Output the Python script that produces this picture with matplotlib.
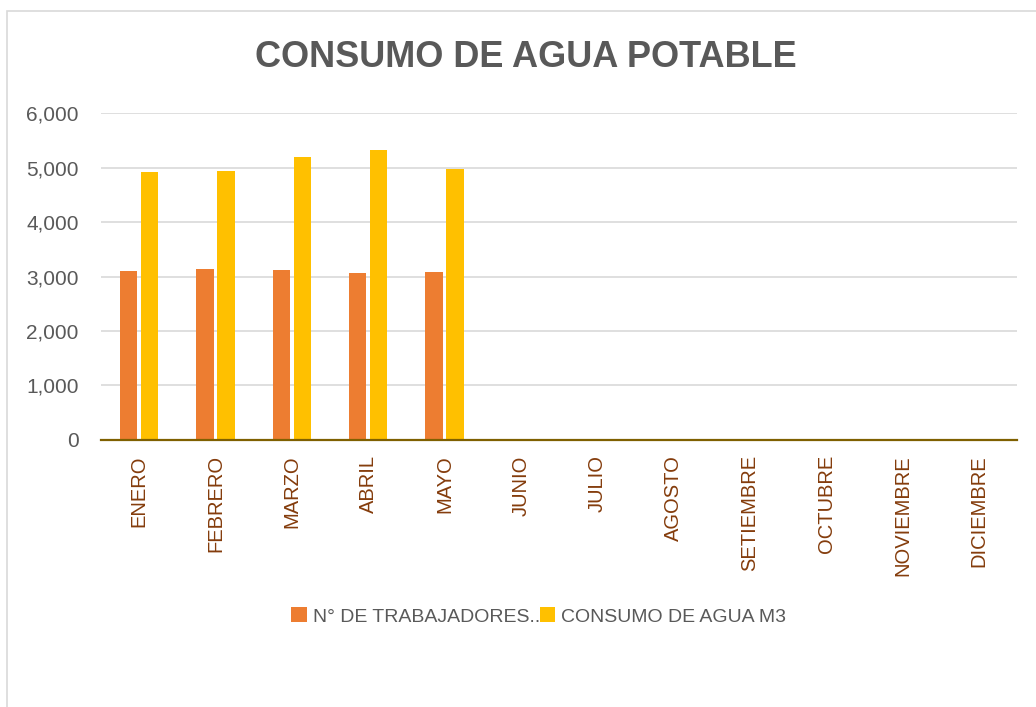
import matplotlib
matplotlib.use("Agg")
import matplotlib.pyplot as plt
from matplotlib.patches import Rectangle
import numpy as np

months = ["ENERO", "FEBRERO", "MARZO", "ABRIL", "MAYO", "JUNIO", "JULIO",
          "AGOSTO", "SETIEMBRE", "OCTUBRE", "NOVIEMBRE", "DICIEMBRE"]
trabajadores = [3110, 3135, 3122, 3062, 3091, 0, 0, 0, 0, 0, 0, 0]
consumo_m3 = [4910, 4933, 5190, 5323, 4983, 0, 0, 0, 0, 0, 0, 0]
series_labels = ["N° DE TRABAJADORES..", "CONSUMO DE AGUA M3"]
yticks = [0, 1000, 2000, 3000, 4000, 5000, 6000]

ORANGE = "#ED7D31"
GOLD = "#FFC000"
GREY = "#595959"
BROWN = "#843C0C"

plt.rcParams["font.family"] = ["Liberation Sans", "DejaVu Sans"]

fig = plt.figure(figsize=(10.36, 7.07), dpi=100)
ax = fig.add_axes([0.0975, 0.3777, 0.8842, 0.4623])

# chart frame
fig.add_artist(Rectangle((6.5 / 1036, -0.1), 1.2, 1 - 10.5 / 707 + 0.1,
                         transform=fig.transFigure, fill=False,
                         edgecolor="#D9D9D9", lw=1.2))

x = np.arange(len(months))
bw = 0.225
gap = 0.05
ax.bar(x - (bw + gap) / 2, trabajadores, bw, color=ORANGE, label=series_labels[0])
ax.bar(x + (bw + gap) / 2, consumo_m3, bw, color=GOLD, label=series_labels[1])

ax.set_xlim(-0.5, len(months) - 0.5)
ax.set_ylim(0, 6000)
ax.set_yticks(yticks)
ax.set_yticklabels([f"{v:,}" for v in yticks])
ax.yaxis.grid(True, color="#D9D9D9", lw=1.2)
ax.set_axisbelow(True)
for s in ["top", "right", "left"]:
    ax.spines[s].set_visible(False)
ax.spines["bottom"].set_color("#7F6000")
ax.spines["bottom"].set_linewidth(1.6)
ax.spines["bottom"].set_zorder(5)

ax.set_xticks(x)
ax.set_xticklabels(months, rotation=90, va="top", ha="center")
ax.tick_params(axis="x", length=0, pad=11, labelsize=14.5, labelcolor=BROWN)
ax.tick_params(axis="y", length=0, pad=16, labelsize=15, labelcolor=GREY)

fig.text(0.508, 0.918, "CONSUMO DE AGUA POTABLE", ha="center", va="center",
         fontsize=26, fontweight="bold", color=GREY,
         family=["Liberation Sans Narrow", "Liberation Sans", "DejaVu Sans"])

fig.legend(loc="center", bbox_to_anchor=(0.52, 0.128), ncol=2, frameon=False,
           fontsize=14, labelcolor=GREY, handlelength=0.8, handleheight=0.8,
           handletextpad=0.3, columnspacing=0.0)

fig.savefig("out.png", dpi=100)
